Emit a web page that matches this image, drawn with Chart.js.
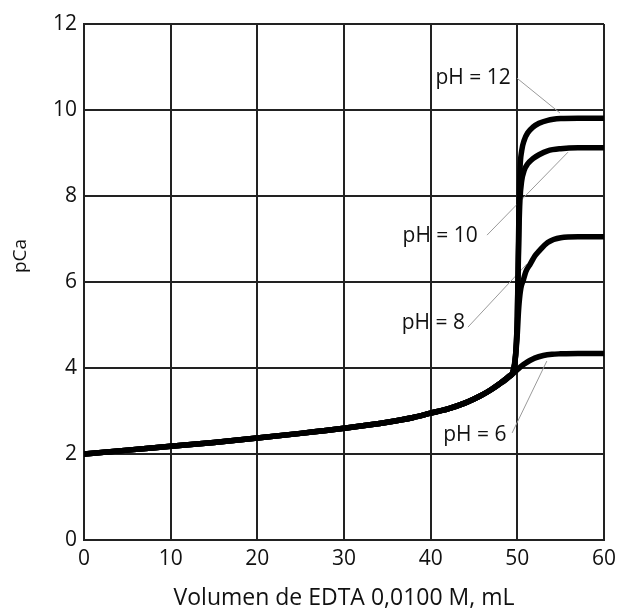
<!DOCTYPE html>
<html>
<head>
<meta charset="utf-8">
<script src="https://cdn.jsdelivr.net/npm/chart.js@4.4.1/dist/chart.umd.min.js"></script>
<style>
  html, body { margin: 0; padding: 0; background: #fff; }
  #wrap { width: 619px; height: 612px; }
</style>
</head>
<body>
<div id="wrap"><canvas id="myChart"></canvas></div>
<script>
// volumen de EDTA (mL) y pCa, antes del punto de equivalencia (común)
var volPre = [0, 5, 10, 15, 20, 25, 30, 35, 38, 40, 42, 44, 45, 46, 47, 48];
var pCaPre = [2.00, 2.09, 2.18, 2.27, 2.37, 2.48, 2.60, 2.74, 2.85, 2.95, 3.05, 3.19, 3.28, 3.38, 3.50, 3.64];

// después del punto de equivalencia
var volPH12 = [49, 49.5, 49.8, 50.0, 50.1, 50.2, 50.3, 50.5, 50.8, 51.2, 51.8, 52.5, 53.5, 55, 57, 60];
var pCaPH12 = [3.80, 3.92, 4.30, 5.20, 6.50, 7.80, 8.60, 9.05, 9.30, 9.47, 9.60, 9.69, 9.76, 9.80, 9.81, 9.81];

var volPH10 = [49, 49.5, 49.8, 50.0, 50.1, 50.2, 50.3, 50.5, 50.8, 51.2, 51.8, 52.5, 53.5, 55, 57, 60];
var pCaPH10 = [3.80, 3.92, 4.30, 5.20, 6.30, 7.30, 7.90, 8.35, 8.60, 8.75, 8.87, 8.96, 9.05, 9.10, 9.12, 9.12];

var volPH8 = [49, 49.5, 49.8, 50.0, 50.1, 50.2, 50.4, 50.7, 51.0, 51.5, 52.0, 52.5, 53.5, 55, 57, 60];
var pCaPH8 = [3.80, 3.92, 4.30, 4.80, 5.20, 5.50, 5.85, 6.05, 6.25, 6.42, 6.60, 6.72, 6.92, 7.03, 7.05, 7.05];

var volPH6 = [48.5, 49, 49.5, 50, 50.5, 51, 51.5, 52, 53, 54, 55, 57, 60];
var pCaPH6 = [3.70, 3.78, 3.87, 3.96, 4.05, 4.12, 4.18, 4.23, 4.29, 4.32, 4.33, 4.34, 4.34];

// etiquetas y líneas guía
var labelText = ['pH = 12', 'pH = 10', 'pH = 8', 'pH = 6'];
var labelX = [44.9, 41.1, 40.3, 45.1];
var labelY = [10.74, 7.07, 5.05, 2.44];
var guideX1 = [49.96, 46.5, 44.3, 49.4];
var guideY1 = [10.74, 7.09, 4.95, 2.49];
var guideX2 = [54.92, 55.85, 51.1, 53.4];
var guideY2 = [9.93, 9.02, 6.42, 4.16];

var xTitle = 'Volumen de EDTA 0,0100 M, mL';
var yTitle = 'pCa';

function puntos(vx, vy) {
    var out = [];
    for (var i = 0; i < vx.length; i++) out.push({x: vx[i], y: vy[i]});
    return out;
}

function curva(vx, vy) {
    return {
        data: puntos(volPre, pCaPre).concat(puntos(vx, vy)),
        borderColor: '#000',
        borderWidth: 5.5,
        pointRadius: 0,
        fill: false,
        cubicInterpolationMode: 'monotone'
    };
}

var datasets = [
    curva(volPH12, pCaPH12),
    curva(volPH10, pCaPH10),
    curva(volPH8, pCaPH8),
    curva(volPH6, pCaPH6)
];
for (var i = 0; i < labelText.length; i++) {
    datasets.push({
        data: [{x: guideX1[i], y: guideY1[i]}, {x: guideX2[i], y: guideY2[i]}],
        borderColor: '#9a9a9a',
        borderWidth: 1,
        pointRadius: 0,
        fill: false
    });
}

var font = '"Open Sans", sans-serif';
var textColor = '#111';

// textos de pH y título del eje y
var textos = {
    id: 'textos',
    afterDatasetsDraw: function(chart) {
        var ctx = chart.ctx;
        var sx = chart.scales.x, sy = chart.scales.y;
        ctx.save();
        ctx.fillStyle = textColor;
        ctx.font = '21px ' + font;
        ctx.textAlign = 'center';
        ctx.textBaseline = 'middle';
        for (var i = 0; i < labelText.length; i++) {
            ctx.fillText(labelText[i], sx.getPixelForValue(labelX[i]), sy.getPixelForValue(labelY[i]));
        }
        ctx.translate(21, (chart.chartArea.top + chart.chartArea.bottom) / 2 - 26);
        ctx.rotate(-Math.PI / 2);
        ctx.font = '19px ' + font;
        ctx.fillText(yTitle, 0, 0);
        ctx.restore();
    }
};

var ctx = document.getElementById('myChart').getContext('2d');
var myChart = new Chart(ctx, {
    type: 'line',
    data: { datasets: datasets },
    plugins: [textos],
    options: {
        responsive: true,
        maintainAspectRatio: false,
        animation: false,
        layout: { padding: { top: 24, right: 15, left: 0, bottom: 0 } },
        plugins: {
            legend: { display: false },
            tooltip: { enabled: false }
        },
        scales: {
            x: {
                type: 'linear',
                min: 0,
                max: 60,
                ticks: { stepSize: 10, color: textColor, padding: 6, font: { family: font, size: 21 } },
                grid: { color: '#222', lineWidth: 2, drawTicks: false },
                border: { color: '#222', width: 2 },
                title: { display: true, text: xTitle, color: textColor, padding: { top: 0, bottom: 0 }, font: { family: font, size: 23 } },
                afterFit: function(scale) {
                    scale.height = 72;
                    scale.paddingLeft = 0;
                    scale.paddingRight = 0;
                }
            },
            y: {
                min: 0,
                max: 12,
                ticks: { stepSize: 2, color: textColor, padding: 7, font: { family: font, size: 21 } },
                grid: { color: '#222', lineWidth: 2, drawTicks: false },
                border: { color: '#222', width: 2 },
                afterFit: function(scale) { scale.width = 84; }
            }
        }
    }
});
</script>
</body>
</html>
